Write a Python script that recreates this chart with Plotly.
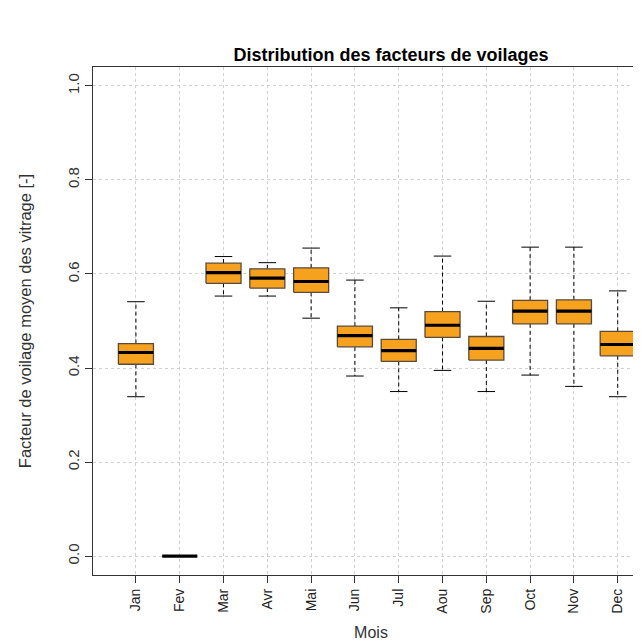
import plotly.graph_objects as go

months = ["Jan", "Fev", "Mar", "Avr", "Mai", "Jun", "Jul", "Aou", "Sep", "Oct", "Nov", "Dec"]
lower = [0.339, 0.0, 0.553, 0.553, 0.506, 0.383, 0.350, 0.395, 0.350, 0.385, 0.361, 0.339]
q1 = [0.408, 0.0, 0.580, 0.570, 0.561, 0.445, 0.414, 0.465, 0.417, 0.494, 0.494, 0.426]
median = [0.433, 0.0, 0.603, 0.591, 0.584, 0.469, 0.437, 0.491, 0.442, 0.521, 0.521, 0.450]
q3 = [0.452, 0.0, 0.623, 0.611, 0.613, 0.489, 0.461, 0.520, 0.467, 0.544, 0.545, 0.478]
upper = [0.541, 0.0, 0.637, 0.624, 0.655, 0.587, 0.528, 0.638, 0.542, 0.657, 0.657, 0.564]
y_ticks = [0.0, 0.2, 0.4, 0.6, 0.8, 1.0]

HW = 0.4   # box half width
CW = 0.2   # cap half width
FONT = "Liberation Sans, Arial, sans-serif"

pos = list(range(1, len(months) + 1))

bx, by = [], []
wx, wy = [], []
cx, cy = [], []
mx, my = [], []
for p, lo, a, m, b, hi in zip(pos, lower, q1, median, q3, upper):
    bx += [p - HW, p + HW, p + HW, p - HW, p - HW, None]
    by += [a, a, b, b, a, None]
    wx += [p, p, None, p, p, None]
    wy += [b, hi, None, a, lo, None]
    cx += [p - CW, p + CW, None, p - CW, p + CW, None]
    cy += [hi, hi, None, lo, lo, None]
    mx += [p - HW, p + HW, None]
    my += [m, m, None]

fig = go.Figure()
fig.add_trace(go.Scatter(x=wx, y=wy, mode="lines", line=dict(color="black", width=1, dash="4px,3px"),
                         hoverinfo="skip", showlegend=False))
fig.add_trace(go.Scatter(x=cx, y=cy, mode="lines", line=dict(color="black", width=1),
                         hoverinfo="skip", showlegend=False))
fig.add_trace(go.Scatter(x=bx, y=by, mode="lines", fill="toself", fillcolor="#F7A21F",
                         line=dict(color="#5a4a3a", width=1.3), hoverinfo="skip", showlegend=False))
fig.add_trace(go.Scatter(x=mx, y=my, mode="lines", line=dict(color="black", width=3.2),
                         hoverinfo="skip", showlegend=False))

fig.update_layout(
    width=641, height=644,
    margin=dict(l=85, r=0, t=59, b=77),
    paper_bgcolor="white", plot_bgcolor="white",
    font=dict(family=FONT, color="#222"),
    title=dict(text="<b>Distribution des facteurs de voilages</b>", x=383 / 641, xanchor="center",
               xref="container", y=1 - 47 / 644, yref="container", yanchor="middle",
               font=dict(size=18, color="black", family=FONT)),
)
fig.update_xaxes(
    range=[0.02, 0.02 + (641 - 85) / 43.8], tickmode="array", tickvals=pos, ticktext=months,
    tickangle=-90, tickfont=dict(size=14, color="#222"),
    ticks="outside", ticklen=7, tickcolor="#333",
    showgrid=True, gridcolor="#d0d0d0", griddash="dot", gridwidth=1,
    showline=True, linecolor="#333", linewidth=1.3, mirror=True,
    zeroline=False,
    title=dict(text="Mois", font=dict(size=16, color="#333"), standoff=14),
)
fig.update_yaxes(
    range=[-0.04, 1.04], tickmode="array", tickvals=y_ticks, ticktext=[f"{v:.1f}" for v in y_ticks],
    tickangle=-90, tickfont=dict(size=15, color="#333"),
    ticks="outside", ticklen=7, tickcolor="#333",
    showgrid=True, gridcolor="#d0d0d0", griddash="dot", gridwidth=1,
    showline=True, linecolor="#333", linewidth=1.3, mirror=True,
    zeroline=False,
    title=dict(text="Facteur de voilage moyen des vitrage [-]", font=dict(size=16.5, color="#333"), standoff=29),
)

fig.write_html("out.html")
